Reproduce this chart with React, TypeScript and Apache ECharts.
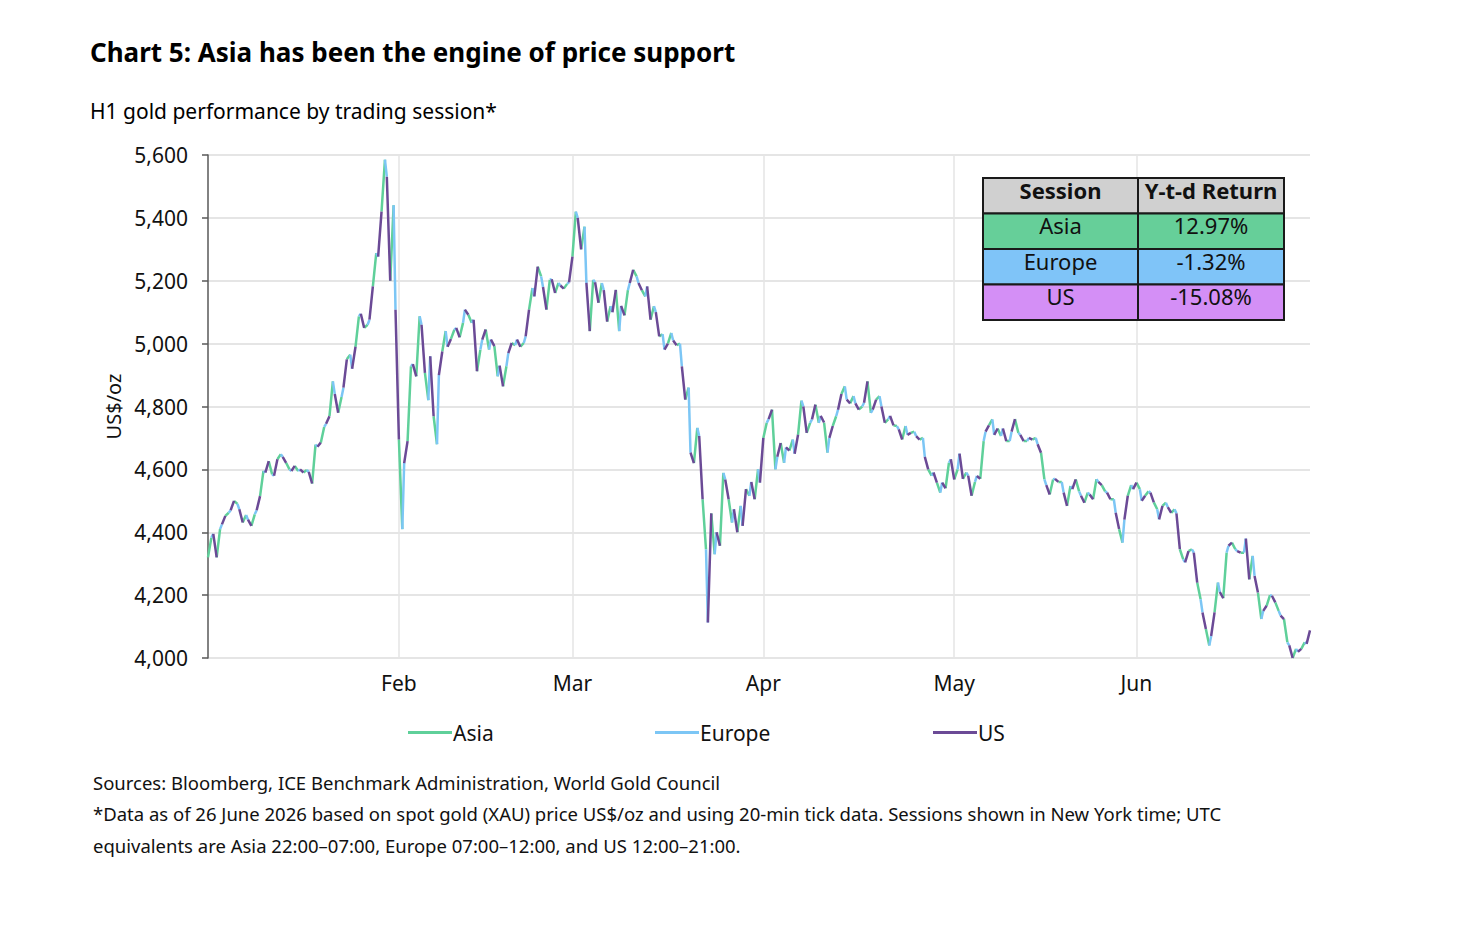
import React, { useEffect, useRef } from 'react';
import * as echarts from 'echarts';

// ---- data (price at end of each session: Asia, Europe, US per trading day) ----
const startPrice = 4320;
const janPrices = [
  4383, 4395, 4320, 4410, 4425, 4452, 4462, 4470, 4500, 4490, 4473, 4431,
  4455, 4440, 4420, 4457, 4470, 4515, 4595, 4590, 4626, 4584, 4580, 4632,
  4648, 4640, 4621, 4600, 4595, 4611, 4595, 4600, 4590, 4598, 4592, 4555,
  4679, 4672, 4685, 4735, 4745, 4769, 4880, 4840, 4780, 4830, 4860, 4950,
  4965, 4920, 4990, 5087, 5095, 5050, 5060, 5076, 5182, 5288, 5277, 5420,
  5585, 5531, 5200, 5440, 5108, 4695,
];
const febPrices = [
  4410, 4620, 4690, 4928, 4935, 4896, 5087, 5060, 4907, 4820, 4960, 4769,
  4680, 4900, 4975, 5040, 4990, 5015, 5044, 5050, 5020, 5066, 5108, 5092,
  5066, 5076, 4912, 4981, 5013, 5045, 4981, 5013, 4992, 4896, 4930, 4864,
  4928, 4970, 5002, 4995, 5013, 4990, 5002, 5023, 5108, 5177, 5150, 5245,
  5214, 5180, 5108, 5203, 5205, 5161, 5193, 5185, 5175, 5190, 5195, 5277,
];
const marPrices = [
  5420, 5400, 5300, 5372, 5193, 5040, 5203, 5195, 5130, 5193, 5170, 5070,
  5119, 5100, 5171, 5040, 5120, 5090, 5170, 5193, 5235, 5214, 5193, 5170,
  5150, 5182, 5076, 5119, 5100, 5023, 5030, 4981, 5000, 5034, 5010, 4995,
  5000, 4928, 4822, 4860, 4653, 4620, 4732, 4706, 4505, 4346, 4113, 4460,
  4330, 4400, 4357, 4589, 4568, 4505, 4431, 4473, 4400, 4484, 4420, 4537,
  4516, 4560, 4505, 4600, 4558, 4700,
];
const aprPrices = [
  4748, 4760, 4790, 4600, 4640, 4684, 4621, 4670, 4660, 4695, 4650, 4710,
  4819, 4800, 4716, 4748, 4759, 4806, 4748, 4770, 4749, 4653, 4700, 4738,
  4769, 4790, 4840, 4864, 4822, 4810, 4833, 4810, 4790, 4800, 4812, 4880,
  4780, 4790, 4822, 4833, 4800, 4748, 4759, 4770, 4740, 4738, 4727, 4695,
  4738, 4710, 4716, 4720, 4706, 4695, 4700, 4640, 4600, 4580, 4590, 4558,
  4526, 4558, 4540, 4621, 4632, 4568,
];
const mayPrices = [
  4600, 4650, 4570, 4590, 4580, 4516, 4560, 4579, 4570, 4690, 4720, 4740,
  4759, 4710, 4730, 4706, 4730, 4690, 4690, 4720, 4760, 4716, 4710, 4690,
  4690, 4700, 4695, 4700, 4680, 4653, 4568, 4550, 4520, 4568, 4570, 4560,
  4560, 4526, 4484, 4547, 4537, 4568, 4530, 4516, 4494, 4526, 4520, 4505,
  4569, 4560, 4550, 4530, 4526, 4505, 4505, 4462, 4410, 4367, 4440, 4516,
  4550, 4537, 4558,
];
const junPrices = [
  4537, 4500, 4516, 4530, 4526, 4495, 4473, 4441, 4484, 4494, 4480, 4462,
  4473, 4460, 4346, 4314, 4304, 4340, 4346, 4335, 4240, 4187, 4145, 4092,
  4040, 4070, 4145, 4240, 4210, 4190, 4335, 4357, 4367, 4346, 4340, 4335,
  4335, 4380, 4250, 4325, 4261, 4208, 4124, 4150, 4166, 4200, 4198, 4177,
  4150, 4135, 4124, 4050, 4040, 4000, 4029, 4020, 4029, 4050, 4045, 4088,
];

const sessionNames = ['Asia', 'Europe', 'US'];
const sessionReturns = ['12.97%', '-1.32%', '-15.08%'];
const monthLabels = ['Feb', 'Mar', 'Apr', 'May', 'Jun'];
const monthStartDays = [22, 42, 64, 86, 107];
const totalTradingDays = 127;
const yTicks = [4000, 5600, 200];

// ---- styling ----
const FONT = '"Noto Sans", "Open Sans", sans-serif';
const lineColors = ['#5fd09a', '#7cc6f5', '#6b4a96'];
const cellColors = ['#66cf99', '#7fc4f8', '#d48ff6'];
const sessionEndFrac = [9 / 23, 14 / 23, 1];

function buildSeriesData() {
  const all = [...janPrices, ...febPrices, ...marPrices, ...aprPrices, ...mayPrices, ...junPrices];
  const out: any[][] = [[], [], []];
  let px = 0;
  let py = startPrice;
  all.forEach((v, i) => {
    const day = Math.floor(i / 3);
    const s = i % 3;
    const x = day + sessionEndFrac[s];
    out[s].push([px, py], [x, v], [x, '-']);
    px = x;
    py = v;
  });
  return out;
}

export default function App() {
  const ref = useRef<HTMLDivElement>(null);
  useEffect(() => {
    if (!ref.current) return;
    const chart = echarts.init(ref.current, undefined, { renderer: 'svg' });
    const data = buildSeriesData();

    const tableX = [983, 1138, 1284];
    const tableY = [178, 213.5, 249, 284.5, 320];
    const graphics: any[] = [];
    graphics.push({
      type: 'text', x: 90, y: 52,
      style: { text: 'Chart 5: Asia has been the engine of price support', fontFamily: FONT, fontSize: 26, fontWeight: 'bold', fill: '#000', align: 'left', verticalAlign: 'middle' },
    });
    graphics.push({
      type: 'text', x: 90, y: 111,
      style: { text: 'H1 gold performance by trading session*', fontFamily: FONT, fontSize: 21, fill: '#000', align: 'left', verticalAlign: 'middle' },
    });
    const sources = [
      'Sources: Bloomberg, ICE Benchmark Administration, World Gold Council',
      '*Data as of 26 June 2026 based on spot gold (XAU) price US$/oz and using 20-min tick data. Sessions shown in New York time; UTC',
      'equivalents are Asia 22:00\u201307:00, Europe 07:00\u201312:00, and US 12:00\u201321:00.',
    ];
    sources.forEach((t, i) => {
      graphics.push({
        type: 'text', x: 93, y: 782 + i * 31.5,
        style: { text: t, fontFamily: FONT, fontSize: 18.5, fill: '#111', align: 'left', verticalAlign: 'middle' },
      });
    });
    const rowFills = ['#d0d0d0', ...cellColors];
    const rowTexts = [['Session', 'Y-t-d Return'], ...sessionNames.map((n, i) => [n, sessionReturns[i]])];
    for (let r = 0; r < 4; r++) {
      for (let c = 0; c < 2; c++) {
        graphics.push({
          type: 'rect',
          shape: { x: tableX[c], y: tableY[r], width: tableX[c + 1] - tableX[c], height: tableY[r + 1] - tableY[r] },
          style: { fill: rowFills[r], stroke: '#1a1a1a', lineWidth: 2 },
          z: 10,
        });
        graphics.push({
          type: 'text',
          x: (tableX[c] + tableX[c + 1]) / 2,
          y: tableY[r] + 11.5,
          z: 11,
          style: {
            text: rowTexts[r][c], fontFamily: FONT, fontSize: 22,
            fontWeight: r === 0 ? 'bold' : 'normal', fill: '#111',
            align: 'center', verticalAlign: 'middle',
          },
        });
      }
    }

    const legendLefts = [403, 650, 928];
    const option: any = {
      animation: false,
      backgroundColor: '#ffffff',
      textStyle: { fontFamily: FONT },
      grid: { left: 208, top: 155, width: 1102, height: 503, containLabel: false },
      xAxis: {
        type: 'value',
        min: 0,
        max: totalTradingDays,
        axisLine: { show: false },
        axisTick: { show: false, customValues: monthStartDays },
        axisLabel: {
          customValues: monthStartDays,
          formatter: (v: number) => monthLabels[monthStartDays.indexOf(v)] || '',
          color: '#111', fontSize: 21, fontFamily: FONT, margin: 14,
        },
        splitLine: { show: true, lineStyle: { color: '#e4e4e4', width: 1.5 } },
      },
      yAxis: {
        type: 'value',
        min: yTicks[0],
        max: yTicks[1],
        interval: yTicks[2],
        name: 'US$/oz',
        nameLocation: 'middle',
        nameRotate: 90,
        nameGap: 82,
        nameTextStyle: { color: '#111', fontSize: 20, fontFamily: FONT },
        axisLine: { show: true, lineStyle: { color: '#595959', width: 1.5 } },
        axisTick: { show: true, inside: false, length: 6, lineStyle: { color: '#595959', width: 1.5 } },
        axisLabel: {
          color: '#111', fontSize: 21, fontFamily: FONT, margin: 20,
          formatter: (v: number) => v.toLocaleString('en-US'),
        },
        splitLine: { show: true, lineStyle: { color: '#dcdcdc', width: 1.5 } },
      },
      legend: sessionNames.map((n, i) => ({
        data: [n],
        left: legendLefts[i],
        top: 717,
        icon: 'rect',
        itemWidth: 44,
        itemHeight: 3,
        itemGap: 5,
        textStyle: { color: '#111', fontSize: 21, fontFamily: FONT, padding: [0, 0, 0, -4] },
      })),
      series: sessionNames.map((n, i) => ({
        name: n,
        type: 'line',
        data: data[i],
        showSymbol: false,
        symbol: 'none',
        connectNulls: false,
        clip: true,
        color: lineColors[i],
        lineStyle: { color: lineColors[i], width: 2.5 },
        z: 2 + i,
      })),
      graphic: graphics,
    };
    chart.setOption(option);
    return () => chart.dispose();
  }, []);
  return (
    <div
      ref={ref}
      style={{ position: 'fixed', left: 0, top: 0, width: 1484, height: 926, background: '#fff' }}
    />
  );
}
